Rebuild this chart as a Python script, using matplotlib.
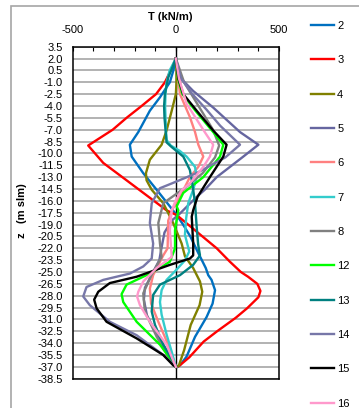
import matplotlib
matplotlib.use('Agg')
import matplotlib.pyplot as plt
from matplotlib.patches import Rectangle
import numpy as np

plt.rcParams['font.family'] = ['Liberation Sans', 'DejaVu Sans']
plt.rcParams['axes.unicode_minus'] = False

# ---- data (T in kN/m, z in m slm) ----
z2 = [2.0, 0.5, -1.0, -2.9, -4.6, -7.3, -8.9, -10.4, -12.5, -14.6, -16.7, -17.8, -19.0, -20.5, -22.4, -24.5, -25.4, -26.0, -27.3, -29.0, -30.7, -33.2, -35.7, -36.8, -37.0]
t2 = [0, -12, -29, -77, -126, -182, -223, -214, -158, -93, -29, 4, 35, 70, 105, 145, 157, 173, 190, 178, 149, 93, 52, 20, 8]

z3 = [2.0, 0.5, -1.0, -2.5, -4.0, -5.5, -7.0, -9.0, -11.2, -13.4, -15.3, -17.2, -17.8, -19.9, -22.0, -23.7, -25.0, -25.6, -26.5, -27.4, -28.2, -29.6, -30.8, -32.5, -33.8, -35.8, -36.9, -37.0]
t3 = [0, -25, -53, -96, -166, -239, -306, -425, -352, -239, -142, -45, 4, 101, 198, 262, 315, 350, 395, 410, 400, 345, 290, 200, 135, 65, 15, 5]

z4 = [2.0, 0.5, -1.0, -2.5, -4.6, -7.1, -8.3, -8.9, -10.8, -12.5, -13.4, -14.6, -16.3, -18.8, -21.4, -23.0, -24.5, -26.2, -27.5, -29.2, -31.7, -34.9, -36.8, -37.0]
t4 = [0, 3, 3, 0, -20, -45, -61, -69, -126, -145, -142, -117, -61, -13, 28, 44, 84, 117, 128, 115, 72, 40, 15, 5]

z5 = [2.0, -0.4, -2.1, -4.2, -7.3, -8.9, -10.4, -13.0, -14.6, -15.5, -17.6, -18.5, -20.0, -22.0, -23.5, -25.0, -27.0, -28.5, -30.5, -33.0, -35.5, -37.0]
t5 = [0, 20, 84, 181, 311, 400, 327, 198, 140, 101, 20, -20, -55, -70, -80, -110, -150, -155, -140, -90, -30, 0]

z6 = [2.0, -2.5, -5.4, -7.3, -8.9, -10.4, -11.7, -13.0, -15.5, -17.0, -18.5, -22.0, -22.9, -25.4, -27.1, -29.0, -31.3, -34.2, -37.0]
t6 = [0, 20, 68, 93, 109, 133, 109, 68, 20, -15, -37, -40, -61, -110, -126, -120, -85, -37, 0]

z7 = [2.0, 0.5, -1.0, -2.5, -4.0, -5.5, -7.0, -8.3, -9.0, -9.7, -10.4, -11.7, -13.0, -14.6, -16.3, -18.2, -20.3, -22.4, -23.5, -24.8, -26.0, -27.3, -28.8, -30.4, -32.9, -35.1, -37.0]
t7 = [0, -30, -45, -50, -52, -50, -48, -45, -25, 20, 52, 93, 101, 84, 60, 50, 44, 65, 45, 0, -45, -69, -77, -69, -45, -20, 0]

z8 = [2.0, -1.0, -4.0, -7.0, -9.0, -10.5, -12.5, -14.2, -16.3, -18.8, -21.4, -23.1, -25.5, -27.7, -30.0, -33.2, -36.0, -37.0]
t8 = [0, 40, 110, 180, 210, 190, 130, 52, -61, -85, -77, -69, -120, -158, -150, -93, -30, 0]

z12 = [2.0, -0.5, -2.5, -4.6, -7.3, -8.9, -10.4, -13.0, -15.0, -16.7, -17.2, -19.7, -22.0, -23.7, -25.2, -26.6, -27.8, -28.8, -31.3, -34.2, -35.9, -37.0]
t12 = [0, 10, 32, 95, 181, 230, 214, 133, 36, 4, 12, -4, -4, -29, -126, -239, -263, -255, -190, -77, -29, 0]

z13 = [2.0, 1.0, -0.4, -2.5, -4.0, -5.5, -7.0, -8.6, -9.2, -10.4, -12.1, -13.8, -16.3, -19.3, -21.5, -22.9, -24.1, -25.4, -26.6, -27.9, -30.0, -31.7, -34.2, -36.3, -37.0]
t13 = [0, -15, -37, -53, -57, -55, -50, -45, -20, 36, 68, 80, 93, 101, 108, 117, 84, 20, -77, -110, -117, -101, -61, -13, 0]

z14 = [2.0, -0.5, -2.5, -4.5, -6.5, -7.5, -8.9, -10.5, -12.5, -13.8, -14.4, -16.3, -18.8, -21.4, -23.3, -24.3, -25.2, -26.0, -26.9, -28.1, -29.2, -31.3, -33.0, -35.5, -37.0]
t14 = [0, 25, 80, 150, 215, 255, 311, 240, 100, -20, -77, -117, -126, -110, -117, -158, -223, -352, -433, -449, -417, -320, -190, -61, 0]

z15 = [2.0, -0.5, -2.5, -4.6, -7.1, -8.9, -10.4, -13.0, -15.5, -17.2, -18.0, -21.4, -22.9, -23.3, -24.1, -25.6, -26.4, -27.5, -28.5, -29.6, -31.3, -33.4, -35.5, -36.8, -37.0]
t15 = [0, 12, 36, 101, 181, 246, 230, 165, 105, 84, 77, 84, 84, 68, -29, -190, -320, -376, -396, -384, -336, -190, -61, -13, 0]

z16 = [2.0, -0.5, -3.7, -7.3, -8.9, -10.4, -11.7, -13.8, -14.6, -15.9, -17.2, -19.7, -23.1, -24.5, -26.2, -27.5, -28.1, -29.2, -31.3, -34.2, -37.0]
t16 = [0, 15, 52, 140, 181, 165, 133, 68, 30, 0, -20, -29, -20, -93, -158, -182, -188, -174, -126, -45, 0]

series = [
    ('2', t2, z2, '#0070C0'),
    ('3', t3, z3, '#FF0000'),
    ('4', t4, z4, '#808000'),
    ('5', t5, z5, '#6666A0'),
    ('6', t6, z6, '#FF8080'),
    ('7', t7, z7, '#33CCCC'),
    ('8', t8, z8, '#808080'),
    ('12', t12, z12, '#00FF00'),
    ('13', t13, z13, '#008080'),
    ('14', t14, z14, '#7777A8'),
    ('15', t15, z15, '#000000'),
    ('16', t16, z16, '#FF99CC'),
]

yticks = np.arange(3.5, -38.6, -1.5)

# ---- figure ----
fig = plt.figure(figsize=(3.59, 4.08), dpi=100)
fig.patches.append(Rectangle((11/359, -0.1), 1.0, 1.1 - 6/408, transform=fig.transFigure,
                             fill=False, edgecolor='#A6A6A6', linewidth=1.2, zorder=0))
ax = fig.add_axes([72.7/359, 1-378.7/408, 206.3/359, 332/408])

ax.set_yticks(yticks)
ax.set_yticklabels([f'{v:.1f}' for v in yticks])
ax.yaxis.grid(True, color='#A6A6A6', linewidth=1.2)
ax.set_axisbelow(True)
ax.axvline(0, color='black', linewidth=1, zorder=1)

for name, t, z, c in series:
    ax.plot(t, z, color=c, linewidth=1.7, label=name, zorder=2,
            solid_joinstyle='round')

ax.set_xlim(-500, 500)
ax.set_ylim(-38.5, 3.5)
ax.xaxis.tick_top()
ax.set_xticks([-500, 0, 500])
ax.set_xticks(np.arange(-500, 501, 100), minor=True)
ax.tick_params(axis='x', which='both', direction='in', length=3, width=0.8, pad=8.5, labelsize=8)
ax.tick_params(axis='y', length=0, pad=7, labelsize=8)
for s in ax.spines.values():
    s.set_linewidth(1.1)

fig.text(170/359, 1-17/408, 'T (kN/m)', ha='center', va='center', fontsize=8, fontweight='bold')
fig.text(22/359, 1-211/408, 'z   (m slm)', ha='center', va='center', rotation=90,
         fontsize=8, fontweight='bold')

fig.legend(loc='upper left', bbox_to_anchor=(311/359, 1-21/408), frameon=False,
           fontsize=8, handlelength=2.1, handletextpad=0.25, labelspacing=2.19,
           borderpad=0, borderaxespad=0)

fig.savefig('out.png', dpi=100)
